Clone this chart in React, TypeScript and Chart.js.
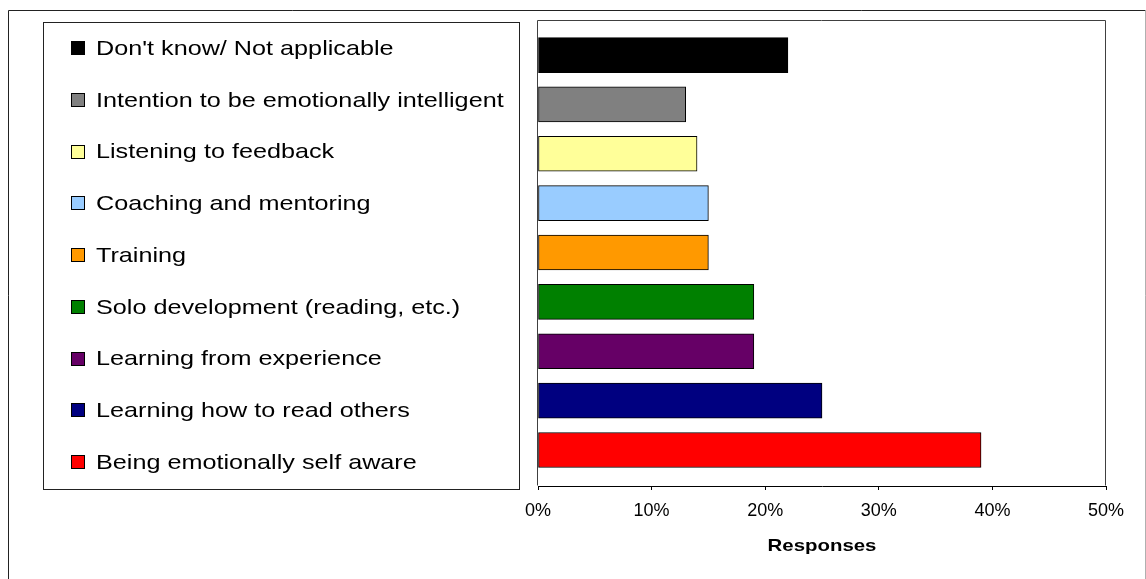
import React, { useEffect, useRef } from "react";
import { Chart, registerables } from "chart.js";

Chart.register(...registerables);

const categories: string[] = [
  "Don't know/ Not applicable",
  "Intention to be emotionally intelligent",
  "Listening to feedback",
  "Coaching and mentoring",
  "Training",
  "Solo development (reading, etc.)",
  "Learning from experience",
  "Learning how to read others",
  "Being emotionally self aware",
];

const responses: number[] = [22, 13, 14, 15, 15, 19, 19, 25, 39];

const barColors: string[] = [
  "#000000",
  "#808080",
  "#FFFF99",
  "#99CCFF",
  "#FF9900",
  "#008000",
  "#660066",
  "#000080",
  "#FF0000",
];

const xTicks: number[] = [0, 10, 20, 30, 40, 50];
const axisTitle = "Responses";

const FONT = "'Liberation Sans', Arial, sans-serif";
const STRETCH = 1.2;

const framePlugin = {
  id: "frame",
  beforeDraw(chart: any) {
    const ctx = chart.ctx;
    ctx.save();
    ctx.fillStyle = "#ffffff";
    ctx.fillRect(0, 0, chart.width, chart.height);
    // outer border
    ctx.strokeStyle = "#222222";
    ctx.lineWidth = 1;
    ctx.beginPath();
    ctx.moveTo(8.5, 600);
    ctx.lineTo(8.5, 10.5);
    ctx.lineTo(1145.5, 10.5);
    ctx.stroke();
    ctx.strokeStyle = "#b0b0b0";
    ctx.beginPath();
    ctx.moveTo(1145.5, 10.5);
    ctx.lineTo(1145.5, 600);
    ctx.stroke();

    // legend box
    ctx.strokeStyle = "#222222";
    ctx.strokeRect(43.5, 22.5, 476, 467);
    const labels: string[] = chart.data.labels;
    const colors: string[] = chart.data.datasets[0].backgroundColor;
    ctx.font = `21px ${FONT}`;
    ctx.textBaseline = "middle";
    ctx.textAlign = "left";
    labels.forEach((lab, i) => {
      const cy = 48 + i * 51.75;
      ctx.fillStyle = colors[i];
      ctx.fillRect(71, Math.round(cy - 7), 14, 14);
      ctx.strokeStyle = "#000000";
      ctx.strokeRect(71.5, Math.round(cy - 7) + 0.5, 13, 13);
      ctx.fillStyle = "#000000";
      ctx.save();
      ctx.translate(96, cy + 1);
      ctx.scale(STRETCH, 1);
      ctx.fillText(lab, 0, 0);
      ctx.restore();
    });
    ctx.restore();
  },
  afterDraw(chart: any) {
    const { ctx, chartArea } = chart;
    ctx.save();
    ctx.strokeStyle = "#404040";
    ctx.lineWidth = 1;
    const l = Math.round(chartArea.left) - 0.5;
    const t = Math.round(chartArea.top) + 0.5;
    const r = Math.round(chartArea.right) - 0.5;
    const b = Math.round(chartArea.bottom) - 0.5;
    ctx.beginPath();
    ctx.moveTo(l, b);
    ctx.lineTo(l, t);
    ctx.lineTo(r, t);
    ctx.lineTo(r, b);
    ctx.stroke();

    // axis title (stretched like the reference)
    ctx.fillStyle = "#000000";
    ctx.font = `bold 17px ${FONT}`;
    ctx.textAlign = "center";
    ctx.textBaseline = "middle";
    ctx.translate((chartArea.left + chartArea.right) / 2, 546);
    ctx.scale(STRETCH, 1);
    ctx.fillText(axisTitle, 0, 0);
    ctx.restore();
  },
};

export default function App() {
  const ref = useRef<HTMLCanvasElement | null>(null);

  useEffect(() => {
    document.body.style.margin = "0";
    const canvas = ref.current;
    if (!canvas) return;
    const chart = new Chart(canvas, {
      type: "bar",
      data: {
        labels: categories,
        datasets: [
          {
            label: axisTitle,
            data: responses.map((v, i) => ({ x: v, y: i })) as any,
            backgroundColor: barColors,
            borderColor: "#000000",
            borderWidth: 1,
            borderSkipped: false,
            barThickness: 35,
          },
        ],
      },
      options: {
        animation: false,
        responsive: false,
        maintainAspectRatio: false,
        indexAxis: "y",
        layout: { padding: { left: 538, right: 40, top: 20, bottom: 0 } },
        plugins: {
          legend: { display: false },
          tooltip: { enabled: false },
          title: { display: false },
        },
        scales: {
          y: {
            type: "linear",
            display: false,
            reverse: true,
            offset: false,
            min: -0.71,
            max: 8.73,
          },
          x: {
            type: "linear",
            min: 0,
            max: 50,
            afterBuildTicks: (axis: any) => {
              axis.ticks = xTicks.map((v) => ({ value: v }));
            },
            afterFit: (axis: any) => {
              axis.height = 93;
            },
            ticks: {
              callback: (v: any) => `${v}%`,
              color: "#000000",
              font: { family: FONT, size: 18 },
              padding: 10,
            },
            grid: {
              display: true,
              drawOnChartArea: false,
              drawTicks: true,
              tickLength: 4,
              color: "#000000",
            },
            border: { display: true, color: "#000000", width: 1 },
            title: { display: false },
          },
        },
      },
      plugins: [framePlugin],
    });
    return () => chart.destroy();
  }, []);

  return (
    <div style={{ width: 1146, height: 579, position: "relative" }}>
      <canvas ref={ref} width={1146} height={579} style={{ display: "block" }} />
    </div>
  );
}
